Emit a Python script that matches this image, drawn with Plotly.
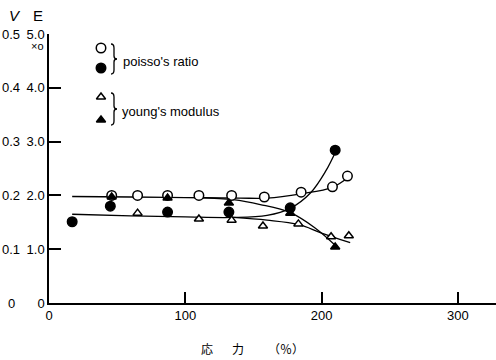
import plotly.graph_objects as go

# ---- data (stress %, value on E scale) ----
po_open_x = [46, 65, 87, 110, 134, 158, 185, 208, 219]
po_open_y = [2.00, 2.00, 2.00, 2.00, 2.00, 1.97, 2.06, 2.16, 2.36]

po_fill_x = [17, 45, 87, 132, 177, 210]
po_fill_y = [1.51, 1.80, 1.69, 1.69, 1.77, 2.84]

ym_open_x = [65, 110, 134, 157, 183, 207, 220]
ym_open_y = [1.67, 1.56, 1.54, 1.43, 1.47, 1.23, 1.25]

ym_fill_x = [46, 87, 132, 177, 210]
ym_fill_y = [1.97, 1.95, 1.86, 1.67, 1.04]

# hand-drawn fitted curves
fit_a_x = [17, 60, 100, 140, 160, 185, 208, 220]
fit_a_y = [1.98, 1.97, 1.96, 1.95, 1.95, 2.03, 2.15, 2.34]
fit_b_x = [110, 135, 155, 177, 195, 211]
fit_b_y = [1.96, 1.92, 1.83, 1.68, 1.40, 1.05]
fit_c_x = [17, 60, 100, 135, 160, 177, 192, 203, 211]
fit_c_y = [1.65, 1.62, 1.60, 1.59, 1.63, 1.76, 2.05, 2.45, 2.85]
fit_d_x = [135, 160, 183, 200, 221]
fit_d_y = [1.59, 1.54, 1.46, 1.30, 1.12]

x_ticks = [0, 100, 200, 300]
e_ticks = [0, 1, 2, 3, 4, 5]
e_labels = ["0", "1.0", "2.0", "3.0", "4.0", "5.0"]
v_labels = ["0", "0.1", "0.2", "0.3", "0.4", "0.5"]
x_title_parts = ["応", "力", "（％）"]
legend_labels = ["poisso's ratio", "young's modulus"]

FONT = "Liberation Sans, Arial, sans-serif"
CJK = "Noto Sans CJK JP"
L, R, T, B = 49, 496, 34, 303  # plot area in pixels


def px(xp):
    return (xp - L) / (R - L)


def py(yp):
    return (B - yp) / (B - T)


fig = go.Figure()

for fx, fy in [(fit_a_x, fit_a_y), (fit_b_x, fit_b_y), (fit_c_x, fit_c_y), (fit_d_x, fit_d_y)]:
    fig.add_trace(go.Scatter(x=fx, y=fy, mode="lines", line=dict(color="black", width=1.3, shape="spline"),
                             hoverinfo="skip", showlegend=False))


def mk(sym, fill):
    return dict(symbol=sym, size=9.5 if "circle" in sym else 8, color=fill, line=dict(color="black", width=1.5))


fig.add_trace(go.Scatter(x=po_open_x, y=po_open_y, mode="markers", marker=mk("circle", "white"), showlegend=False))
fig.add_trace(go.Scatter(x=po_fill_x, y=po_fill_y, mode="markers", marker=mk("circle", "black"), showlegend=False))
fig.add_trace(go.Scatter(x=ym_open_x, y=ym_open_y, mode="markers", marker=mk("triangle-up", "white"), showlegend=False))
fig.add_trace(go.Scatter(x=ym_fill_x, y=ym_fill_y, mode="markers", marker=mk("triangle-up", "black"), showlegend=False))

# legend keys on a pixel-space overlay axis
leg_px_x = [101, 101, 101, 101]
leg_px_y = [48, 68, 97, 120]
leg_sym = ["circle", "circle", "triangle-up", "triangle-up"]
leg_fill = ["white", "black", "white", "black"]
for lx, ly, s, f in zip(leg_px_x, leg_px_y, leg_sym, leg_fill):
    fig.add_trace(go.Scatter(x=[lx], y=[ly], xaxis="x2", yaxis="y2", mode="markers",
                             marker=mk(s, f), showlegend=False, hoverinfo="skip"))


def brace(x0, ytop, ybot, w=6):
    ym = (ytop + ybot) / 2
    xm = x0 + w / 2
    return (f"M {x0},{ytop} Q {xm},{ytop} {xm},{ytop+4} L {xm},{ym-3} Q {xm},{ym} {x0+w},{ym} "
            f"Q {xm},{ym} {xm},{ym+3} L {xm},{ybot-4} Q {xm},{ybot} {x0},{ybot}")


shapes = [
    dict(type="path", path=brace(111, 44, 74), xref="x2", yref="y2", line=dict(color="black", width=1.3)),
    dict(type="path", path=brace(111, 93, 125), xref="x2", yref="y2", line=dict(color="black", width=1.3)),
]


def txt(xp, yp, text, size, family=FONT, xanchor="center"):
    return dict(x=px(xp), y=py(yp), xref="paper", yref="paper", text=text, showarrow=False,
                xanchor=xanchor, yanchor="middle", font=dict(family=family, size=size, color="black"))


ann = []
for v, lab in zip(e_ticks, v_labels):
    ann.append(dict(x=px(11), y=v, xref="paper", yref="y", text=lab, showarrow=False, xanchor="center",
                    yanchor="middle", font=dict(family=FONT, size=13, color="black")))
ann += [
    txt(15, 15, "<i>V</i>", 15),
    txt(38, 15, "E", 15),
    txt(37, 46, "×o", 11),
    txt(207, 349, x_title_parts[0], 12, CJK),
    txt(238, 349, x_title_parts[1], 12, CJK),
    txt(286, 349, x_title_parts[2], 12, CJK),
    txt(121, 61, legend_labels[0], 13, xanchor="left"),
    txt(120, 111, legend_labels[1], 13, xanchor="left"),
]

fig.update_layout(
    width=496, height=360, margin=dict(l=49, r=0, t=34, b=57),
    plot_bgcolor="white", paper_bgcolor="white",
    xaxis=dict(range=[0, 328], tickvals=x_ticks, ticks="inside", ticklen=11, tickwidth=1.5, tickcolor="black",
               showline=True, linecolor="black", linewidth=1.5, showgrid=False, zeroline=False,
               tickfont=dict(family=FONT, size=13, color="black")),
    yaxis=dict(range=[0, 5], tickvals=e_ticks, ticktext=e_labels, ticks="inside", ticklen=12, tickwidth=1.5,
               tickcolor="black", showline=True, linecolor="black", linewidth=1.5, showgrid=False, zeroline=False,
               tickfont=dict(family=FONT, size=13, color="black")),
    xaxis2=dict(range=[49, 496], overlaying="x", visible=False, fixedrange=True),
    yaxis2=dict(range=[303, 34], overlaying="y", visible=False, fixedrange=True),
    shapes=shapes, annotations=ann, showlegend=False,
)

fig.write_html("out.html")
